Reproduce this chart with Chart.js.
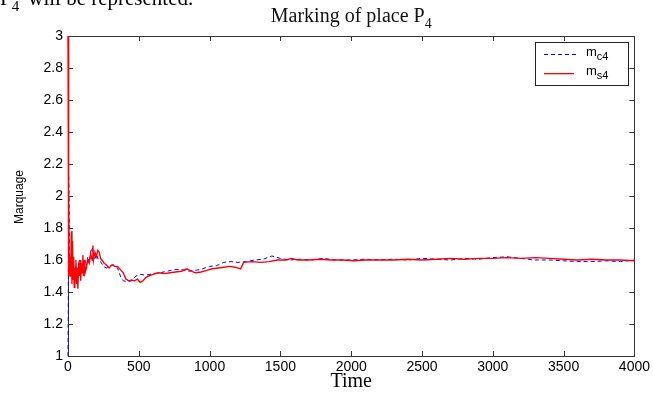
<!DOCTYPE html>
<html>
<head>
<meta charset="utf-8">
<script src="https://cdn.jsdelivr.net/npm/chart.js@4.4.1/dist/chart.umd.min.js"></script>
<style>
  html, body { margin: 0; padding: 0; background: #fff; }
  #wrap { width: 653px; height: 397px; position: relative; }
</style>
</head>
<body>
<div id="wrap"><canvas id="chart" width="653" height="397"></canvas></div>
<script>
// simulated marking m_c4 (blue dashed)
const timeC = [0, 2, 4, 6, 8, 10, 14, 18, 22, 28, 34, 40, 48, 56, 64, 72, 80, 90, 100, 110,
    120, 130, 140, 150, 160, 170, 180, 190, 200, 215, 230, 250, 270, 290, 320, 350, 370, 390,
    420, 450, 480, 510, 550, 600, 650, 700, 750, 800, 850, 900, 950, 1000, 1050, 1100, 1150,
    1200, 1260, 1320, 1380, 1440, 1500, 1560, 1640, 1720, 1800, 1900, 2000, 2100, 2200, 2300,
    2400, 2500, 2600, 2700, 2800, 2900, 3000, 3100, 3200, 3300, 3400, 3500, 3600, 3700, 3800,
    3900, 4000];
const markC = [1.0, 1.27, 2.13, 2.05, 1.95, 1.6, 1.52, 1.58, 1.5, 1.55, 1.48, 1.54, 1.5, 1.57,
    1.5, 1.55, 1.6, 1.55, 1.58, 1.54, 1.6, 1.57, 1.62, 1.58, 1.65, 1.68, 1.62, 1.6, 1.64, 1.6,
    1.59, 1.56, 1.55, 1.56, 1.57, 1.55, 1.5, 1.47, 1.465, 1.47, 1.5, 1.51, 1.505, 1.515, 1.52,
    1.53, 1.54, 1.54, 1.53, 1.535, 1.545, 1.56, 1.565, 1.585, 1.59, 1.585, 1.59, 1.6, 1.605,
    1.625, 1.61, 1.6, 1.605, 1.6, 1.61, 1.6, 1.6, 1.605, 1.6, 1.605, 1.6, 1.61, 1.605, 1.6,
    1.61, 1.605, 1.615, 1.62, 1.61, 1.6, 1.6, 1.595, 1.59, 1.59, 1.595, 1.59, 1.6];

// marking m_s4 (red solid)
const timeS = [0, 3, 6, 9, 12, 15, 20, 25, 28, 32, 36, 40, 44, 48, 52, 56, 60, 65, 70, 75, 80,
    85, 90, 95, 100, 105, 110, 115, 120, 130, 140, 150, 160, 170, 176, 180, 190, 200, 210, 220,
    230, 240, 255, 270, 290, 310, 330, 350, 370, 390, 410, 430, 450, 470, 490, 510, 530, 550,
    570, 600, 640, 680, 720, 760, 800, 840, 870, 900, 940, 980, 1020, 1060, 1100, 1140, 1180,
    1220, 1240, 1300, 1360, 1420, 1480, 1540, 1580, 1620, 1700, 1780, 1860, 1940, 2020, 2100,
    2200, 2300, 2400, 2500, 2600, 2700, 2800, 2900, 3000, 3100, 3200, 3300, 3400, 3500, 3600,
    3700, 3800, 3900, 4000];
const markS = [3.0, 1.5, 2.02, 1.55, 1.62, 1.5, 1.58, 1.78, 1.45, 1.72, 1.48, 1.62, 1.43, 1.55,
    1.47, 1.6, 1.45, 1.55, 1.42, 1.58, 1.5, 1.6, 1.47, 1.58, 1.52, 1.63, 1.5, 1.6, 1.52, 1.55,
    1.6, 1.58, 1.64, 1.6, 1.69, 1.6, 1.65, 1.62, 1.66, 1.65, 1.61, 1.6, 1.58, 1.57, 1.55, 1.57,
    1.56, 1.56, 1.54, 1.52, 1.48, 1.47, 1.475, 1.47, 1.48, 1.46, 1.47, 1.49, 1.5, 1.51, 1.52,
    1.515, 1.52, 1.525, 1.53, 1.545, 1.53, 1.52, 1.525, 1.535, 1.545, 1.55, 1.555, 1.56, 1.555,
    1.545, 1.585, 1.59, 1.585, 1.59, 1.6, 1.6, 1.61, 1.6, 1.6, 1.605, 1.6, 1.6, 1.595, 1.6, 1.6,
    1.6, 1.605, 1.6, 1.605, 1.61, 1.605, 1.61, 1.61, 1.615, 1.61, 1.615, 1.61, 1.605, 1.6,
    1.605, 1.6, 1.6, 1.595];

const xTicks = [0, 500, 1000, 1500, 2000, 2500, 3000, 3500, 4000];
const yTicks = [1, 1.2, 1.4, 1.6, 1.8, 2, 2.2, 2.4, 2.6, 2.8, 3];

const AXIS_FONT = 'Liberation Sans, Arial, sans-serif';
const SERIF = 'Liberation Serif, "Times New Roman", serif';

function toPoints(xs, ys) {
    return xs.map((x, i) => ({ x: x, y: ys[i] }));
}

// draws text with a lowered subscript part, returns end x
function textWithSub(ctx, main, sub, x, y, size, subSize, font) {
    ctx.font = size + 'px ' + font;
    ctx.fillText(main, x, y);
    const w = ctx.measureText(main).width;
    ctx.font = subSize + 'px ' + font;
    ctx.fillText(sub, x + w, y + size * 0.3);
    return x + w + ctx.measureText(sub).width;
}

const framePlugin = {
    id: 'frame',
    beforeDatasetsDraw(chart) {
        const ctx = chart.ctx;
        const a = chart.chartArea;
        const xs = chart.scales.x;
        const ys = chart.scales.y;
        ctx.save();
        ctx.strokeStyle = '#333';
        ctx.lineWidth = 1;
        ctx.beginPath();
        // inward ticks on all four sides
        xTicks.forEach(t => {
            const px = Math.round(xs.getPixelForValue(t)) + 0.5;
            ctx.moveTo(px, a.bottom); ctx.lineTo(px, a.bottom - 5);
            ctx.moveTo(px, a.top); ctx.lineTo(px, a.top + 5);
        });
        yTicks.forEach(t => {
            const py = Math.round(ys.getPixelForValue(t)) + 0.5;
            ctx.moveTo(a.left, py); ctx.lineTo(a.left + 5, py);
            ctx.moveTo(a.right, py); ctx.lineTo(a.right - 5, py);
        });
        ctx.stroke();
        ctx.strokeRect(Math.round(a.left) + 0.5, Math.round(a.top) + 0.5,
            Math.round(a.right - a.left), Math.round(a.bottom - a.top));
        ctx.restore();
    },
    afterDatasetsDraw(chart) {
        const ctx = chart.ctx;
        ctx.save();
        // legend box
        const lx = 535, ly = 42, lw = 93, lh = 43;
        ctx.fillStyle = '#fff';
        ctx.fillRect(lx, ly, lw, lh);
        ctx.strokeStyle = '#222';
        ctx.lineWidth = 1;
        ctx.strokeRect(lx + 0.5, ly + 0.5, lw, lh);
        ctx.fillStyle = '#0000ff';
        for (let x = 544; x < 574; x += 7) ctx.fillRect(x, 54, 4, 1);
        ctx.fillStyle = '#ff0000';
        ctx.fillRect(544, 73, 30, 1.3);
        ctx.fillStyle = '#000';
        ctx.textBaseline = 'alphabetic';
        ctx.textAlign = 'left';
        textWithSub(ctx, 'm', 'c4', 586, 56, 13, 11, AXIS_FONT);
        textWithSub(ctx, 'm', 's4', 586, 75, 13, 11, AXIS_FONT);
        ctx.restore();
    },
    afterDraw(chart) {
        const ctx = chart.ctx;
        ctx.save();
        ctx.fillStyle = '#000';
        ctx.textBaseline = 'alphabetic';
        ctx.textAlign = 'left';
        // title, centred over the plot
        ctx.font = '20px ' + SERIF;
        const wMain = ctx.measureText('Marking of place P').width;
        ctx.font = '14px ' + SERIF;
        const wSub = ctx.measureText('4').width;
        const cx = (chart.chartArea.left + chart.chartArea.right) / 2;
        ctx.fillStyle = '#111';
        textWithSub(ctx, 'Marking of place P', '4', cx - (wMain + wSub) / 2, 22, 20, 14, SERIF);
        // cut-off line of the surrounding text
        ctx.fillStyle = '#000';
        textWithSub(ctx, 'P', '4', 0, 5, 21, 15, SERIF);
        ctx.font = '21px ' + SERIF;
        ctx.fillText(' will be represented.', 23, 5);
        // x label
        ctx.font = '20px ' + SERIF;
        ctx.textAlign = 'center';
        ctx.fillText('Time', cx, 387);
        // y label
        ctx.translate(23, 197);
        ctx.rotate(-Math.PI / 2);
        ctx.font = '12px ' + AXIS_FONT;
        ctx.fillText('Marquage', 0, 0);
        ctx.restore();
    }
};

new Chart(document.getElementById('chart'), {
    type: 'line',
    data: {
        datasets: [
            {
                label: 'm_c4',
                data: toPoints(timeC, markC),
                borderColor: '#0000ff',
                borderWidth: 1,
                borderDash: [4, 3],
                pointRadius: 0,
                tension: 0,
                clip: false,
                order: 1
            },
            {
                label: 'm_s4',
                data: toPoints(timeS, markS),
                borderColor: '#ff0000',
                borderWidth: 1.4,
                pointRadius: 0,
                tension: 0,
                clip: false,
                order: 0
            }
        ]
    },
    plugins: [framePlugin],
    options: {
        responsive: false,
        animation: false,
        layout: { padding: { left: 0, right: 16, top: 36, bottom: 0 } },
        plugins: {
            legend: { display: false },
            tooltip: { enabled: false }
        },
        scales: {
            x: {
                type: 'linear',
                min: 0,
                max: 4000,
                afterBuildTicks: s => { s.ticks = xTicks.map(v => ({ value: v })); },
                afterFit: s => { s.height = 41; },
                grid: { display: false, drawTicks: false },
                border: { display: false },
                ticks: {
                    color: '#000',
                    padding: 3,
                    maxRotation: 0,
                    font: { family: AXIS_FONT, size: 14 },
                    callback: v => String(v)
                }
            },
            y: {
                type: 'linear',
                min: 1,
                max: 3,
                afterBuildTicks: s => { s.ticks = yTicks.map(v => ({ value: v })); },
                afterFit: s => { s.width = 68; },
                grid: { display: false, drawTicks: false },
                border: { display: false },
                ticks: {
                    color: '#000',
                    padding: 5,
                    font: { family: AXIS_FONT, size: 14 },
                    callback: v => String(Math.round(v * 10) / 10)
                }
            }
        }
    }
});
</script>
</body>
</html>
